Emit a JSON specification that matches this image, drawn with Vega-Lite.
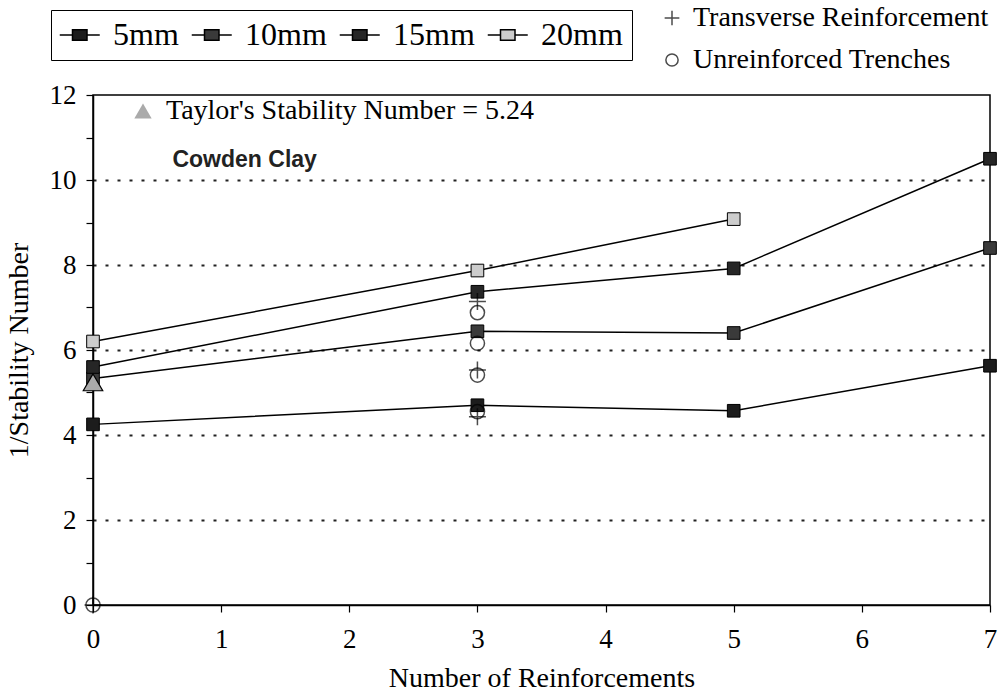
{
  "$schema": "https://vega.github.io/schema/vega-lite/v6.json",
  "width": 897,
  "height": 510,
  "autosize": {"type": "none"},
  "padding": {"left": 93, "top": 95, "right": 18, "bottom": 90},
  "background": "white",
  "config": {
    "font": "Liberation Serif",
    "view": {"stroke": "black", "strokeWidth": 1.5},
    "axis": {
      "domainColor": "black",
      "domainWidth": 1.5,
      "tickColor": "black",
      "tickWidth": 1.2,
      "tickSize": 7,
      "labelColor": "black",
      "labelFont": "Liberation Serif",
      "labelFontSize": 27,
      "titleColor": "black",
      "titleFont": "Liberation Serif",
      "titleFontSize": 28,
      "titleFontWeight": "normal",
      "labelFlush": false,
      "labelOverlap": false
    },
    "legend": {
      "labelFont": "Liberation Serif",
      "labelColor": "black",
      "titleFont": "Liberation Serif",
      "labelLimit": 0
    }
  },
  "datasets": {
    "series": [
      {"n": 0, "v": 4.25, "size": "5mm"},
      {"n": 3, "v": 4.7, "size": "5mm"},
      {"n": 5, "v": 4.57, "size": "5mm"},
      {"n": 7, "v": 5.63, "size": "5mm"},
      {"n": 0, "v": 5.33, "size": "10mm"},
      {"n": 3, "v": 6.44, "size": "10mm"},
      {"n": 5, "v": 6.4, "size": "10mm"},
      {"n": 7, "v": 8.4, "size": "10mm"},
      {"n": 0, "v": 5.6, "size": "15mm"},
      {"n": 3, "v": 7.37, "size": "15mm"},
      {"n": 5, "v": 7.92, "size": "15mm"},
      {"n": 7, "v": 10.5, "size": "15mm"},
      {"n": 0, "v": 6.2, "size": "20mm"},
      {"n": 3, "v": 7.87, "size": "20mm"},
      {"n": 5, "v": 9.08, "size": "20mm"}
    ],
    "markers": [
      {"n": 0, "v": 0, "kind": "Transverse Reinforcement"},
      {"n": 3, "v": 7.14, "kind": "Transverse Reinforcement"},
      {"n": 3, "v": 5.53, "kind": "Transverse Reinforcement"},
      {"n": 3, "v": 4.43, "kind": "Transverse Reinforcement"},
      {"n": 0, "v": 0, "kind": "Unreinforced Trenches"},
      {"n": 3, "v": 6.88, "kind": "Unreinforced Trenches"},
      {"n": 3, "v": 6.16, "kind": "Unreinforced Trenches"},
      {"n": 3, "v": 5.41, "kind": "Unreinforced Trenches"},
      {"n": 3, "v": 4.55, "kind": "Unreinforced Trenches"}
    ],
    "taylor": [
      {"n": 0, "v": 5.24, "label": "Taylor's Stability Number = 5.24"}
    ],
    "notes": [
      {"n": 0.62, "v": 10.47, "label": "Cowden Clay"}
    ]
  },
  "encoding": {
    "x": {
      "field": "n",
      "type": "quantitative",
      "scale": {"domain": [0, 7], "nice": false, "zero": false},
      "axis": {
        "title": "Number of Reinforcements",
        "values": [0, 0.5, 1, 1.5, 2, 2.5, 3, 3.5, 4, 4.5, 5, 5.5, 6, 6.5, 7],
        "format": "d",
        "labelExpr": "datum.value % 1 === 0 ? datum.label : ''",
        "grid": false,
        "labelPadding": 14,
        "titlePadding": 12
      }
    },
    "y": {
      "field": "v",
      "type": "quantitative",
      "scale": {"domain": [0, 12], "nice": false},
      "axis": {
        "title": "1/Stability Number",
        "values": [0, 1, 2, 3, 4, 5, 6, 7, 8, 9, 10, 11, 12],
        "format": "d",
        "labelExpr": "datum.value % 2 === 0 ? datum.label : ''",
        "grid": true,
        "gridColor": "#222222",
        "gridDash": [3, 9],
        "gridWidth": 2,
        "gridOpacity": {"condition": {"test": "datum.value % 2 === 0 && datum.value > 0 && datum.value < 12", "value": 1}, "value": 0},
        "labelPadding": 10,
        "titlePadding": 16
      }
    }
  },
  "layer": [
    {
      "data": {"name": "series"},
      "mark": {"type": "line", "color": "black", "strokeWidth": 1.5},
      "encoding": {"detail": {"field": "size", "type": "nominal"}}
    },
    {
      "data": {"name": "series"},
      "mark": {"type": "point", "shape": "square", "filled": true, "size": 160, "stroke": "black", "strokeWidth": 1, "opacity": 1},
      "encoding": {
        "fill": {
          "field": "size",
          "type": "nominal",
          "scale": {"domain": ["5mm", "10mm", "15mm", "20mm"], "range": ["#1c1c1c", "#3a3a3a", "#262626", "#cccccc"]},
          "legend": {
            "title": null,
            "orient": "none",
            "legendX": -42,
            "legendY": -85,
            "direction": "horizontal",
            "columns": 4,
            "symbolType": "M-1.3,0H-0.28M0.88,0H1.9M-0.28,-0.42H0.88V0.42H-0.28Z",
            "symbolSize": 625,
            "symbolStrokeColor": "black",
            "symbolStrokeWidth": 1.5,
            "labelFont": "Liberation Serif",
            "labelFontSize": 32,
            "labelLimit": 0,
            "labelOffset": 21,
            "columnPadding": 9,
            "strokeColor": "black",
            "fillColor": "white",
            "padding": 9
          }
        }
      }
    },
    {
      "data": {"name": "markers"},
      "mark": {"type": "point", "filled": false, "stroke": "black", "strokeWidth": 1.5, "size": 200},
      "encoding": {
        "shape": {
          "field": "kind",
          "type": "nominal",
          "scale": {"domain": ["Transverse Reinforcement", "Unreinforced Trenches"], "range": ["M-1.2,0H1.2M0,-1.2V1.2", "circle"]},
          "legend": {
            "title": null,
            "orient": "none",
            "legendX": 565,
            "legendY": -91,
            "direction": "vertical",
            "labelFont": "Liberation Serif",
            "labelFontSize": 28,
            "labelLimit": 0,
            "symbolSize": 150,
            "symbolStrokeColor": "black",
            "symbolStrokeWidth": 1.5,
            "symbolFillColor": "transparent",
            "rowPadding": 14,
            "labelOffset": 7
          }
        }
      }
    },
    {
      "data": {"name": "taylor"},
      "mark": {"type": "point", "filled": true, "fill": "#aaaaaa", "stroke": "black", "strokeWidth": 1.2, "size": 380, "opacity": 1},
      "encoding": {
        "shape": {
          "field": "label",
          "type": "nominal",
          "scale": {"domain": ["Taylor's Stability Number = 5.24"], "range": ["triangle-up"]},
          "legend": {
            "title": null,
            "orient": "none",
            "legendX": 36,
            "legendY": 2,
            "labelFont": "Liberation Serif",
            "labelFontSize": 28,
            "labelLimit": 0,
            "symbolSize": 300,
            "symbolFillColor": "#aaaaaa",
            "symbolStrokeColor": "black",
            "symbolStrokeWidth": 1.2,
            "labelOffset": 9
          }
        }
      }
    },
    {
      "data": {"name": "notes"},
      "mark": {"type": "text", "align": "left", "baseline": "middle", "font": "Liberation Sans", "fontSize": 23, "fontWeight": "bold", "color": "#222222"},
      "encoding": {"text": {"field": "label", "type": "nominal"}}
    }
  ],
  "resolve": {"scale": {"shape": "independent"}, "legend": {"shape": "independent"}}
}
